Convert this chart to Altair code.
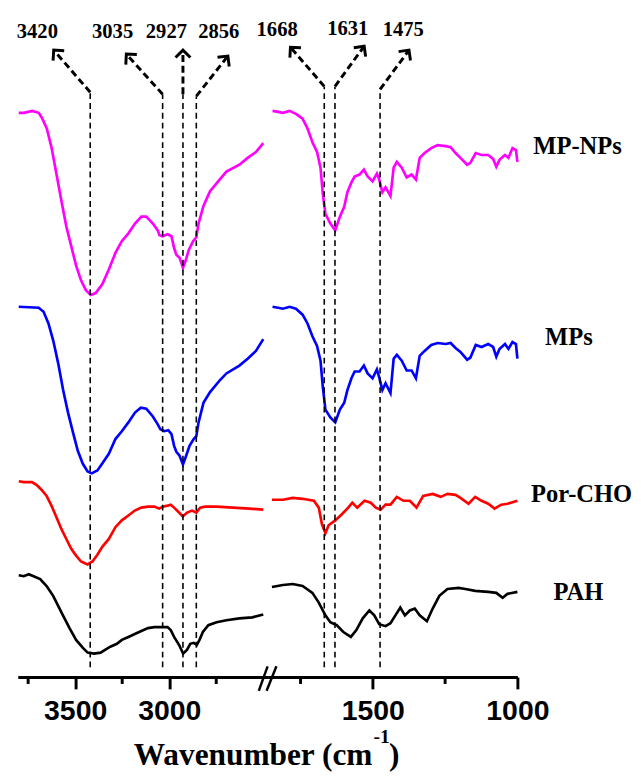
import altair as alt
import pandas as pd

# ---------------- spectra, left window (3805 - 2477 cm-1) ----------------
mpnps_l_wn = [3800, 3772, 3729, 3694, 3677, 3651, 3625, 3599, 3573, 3547, 3521, 3495, 3469, 3443, 3417,
              3391, 3356, 3321, 3286, 3252, 3217, 3182, 3148, 3122, 3087, 3061, 3052, 3035, 3009, 2988,
              2974, 2962, 2945, 2927, 2913, 2896, 2873, 2856, 2844, 2818, 2783, 2731, 2696, 2627, 2583,
              2539, 2500]
mpnps_l_val = [576, 576, 578, 576, 571, 560, 540, 513, 486, 460, 440, 420, 405, 395, 390,
               392, 401, 416, 433, 445, 453, 463, 470, 470, 463, 456, 451, 450, 452, 450,
               438, 431, 428, 418, 425, 436, 445, 449, 463, 481, 496, 508, 516, 523, 530,
               536, 545]

mps_l_wn = [3800, 3694, 3668, 3642, 3616, 3590, 3564, 3538, 3512, 3486, 3460, 3434, 3412, 3382, 3356,
            3321, 3286, 3252, 3217, 3182, 3151, 3122, 3087, 3061, 3047, 3026, 3005, 2988, 2974, 2962,
            2945, 2927, 2910, 2892, 2870, 2856, 2844, 2818, 2783, 2731, 2696, 2627, 2583, 2539, 2500]
mps_l_val = [378, 377, 373, 361, 343, 320, 293, 270, 250, 231, 218, 210, 208, 211, 218,
             228, 243, 251, 260, 270, 275, 274, 266, 258, 253, 251, 252, 248, 236, 230,
             226, 217, 226, 236, 243, 246, 260, 280, 291, 303, 310, 318, 325, 333, 345]

porcho_l_wn = [3800, 3773, 3730, 3704, 3678, 3652, 3626, 3599, 3573, 3547, 3521, 3495, 3469, 3434, 3408,
               3382, 3356, 3321, 3286, 3252, 3217, 3183, 3148, 3113, 3079, 3053, 3035, 3009, 2992, 2974,
               2948, 2928, 2905, 2879, 2856, 2835, 2809, 2748, 2662, 2575, 2500]
porcho_l_val = [200, 199, 199, 196, 191, 185, 175, 163, 151, 141, 131, 124, 118, 115, 118,
                125, 133, 141, 153, 160, 165, 170, 173, 174, 174, 172, 174, 175, 176, 173,
                168, 164, 168, 170, 168, 173, 174, 174, 173, 172, 171]

pah_l_wn = [3800, 3773, 3747, 3721, 3686, 3652, 3617, 3591, 3565, 3530, 3495, 3460, 3434, 3399, 3365,
            3339, 3313, 3278, 3252, 3217, 3183, 3148, 3113, 3079, 3044, 3009, 2992, 2974, 2948, 2926,
            2905, 2888, 2870, 2853, 2839, 2821, 2792, 2748, 2696, 2627, 2558, 2500]
pah_l_val = [104, 103, 105, 103, 100, 93, 83, 73, 63, 50, 38, 30, 25, 24, 25,
             28, 31, 34, 38, 41, 44, 47, 50, 51, 51, 51, 48, 41, 33, 24,
             28, 34, 35, 33, 38, 46, 53, 56, 58, 60, 61, 64]

# ---------------- spectra, right window (1864 - 1000 cm-1) ----------------
np_r_wn = [1847, 1828, 1811, 1788, 1766, 1743, 1726, 1709, 1693, 1681,
           1673, 1664, 1647, 1630, 1614, 1599, 1588, 1574, 1563, 1546,
           1531, 1518, 1501, 1486, 1478, 1467, 1456, 1439, 1428, 1417,
           1400, 1383, 1366, 1351, 1338, 1321, 1298, 1276, 1248, 1231,
           1214, 1197, 1174, 1163, 1144, 1124, 1101, 1084, 1073, 1062,
           1043, 1031, 1017, 1005, 1000]
mpnps_r_val = [578, 577, 576, 578, 575, 570, 560, 546, 536, 520,
               493, 473, 463, 456, 470, 480, 495, 505, 511, 513,
               518, 511, 506, 514, 508, 495, 500, 491, 520, 526,
               520, 510, 513, 508, 530, 535, 540, 543, 542, 541,
               535, 530, 523, 525, 535, 533, 533, 529, 521, 528,
               533, 530, 540, 538, 526]
mps_r_val = [378, 377, 376, 378, 376, 370, 361, 348, 338, 323,
             296, 273, 265, 260, 273, 280, 293, 305, 312, 312,
             318, 310, 305, 314, 306, 293, 300, 290, 325, 329,
             323, 313, 313, 305, 328, 333, 339, 341, 340, 341,
             336, 332, 324, 326, 339, 337, 340, 337, 327, 335,
             340, 335, 342, 340, 325]

porcho_r_wn = [1849, 1811, 1777, 1743, 1704, 1687, 1676, 1664, 1653, 1630, 1608, 1585, 1571, 1554, 1529,
               1507, 1490, 1473, 1456, 1439, 1417, 1394, 1372, 1349, 1326, 1293, 1265, 1242, 1214, 1197,
               1169, 1146, 1124, 1101, 1079, 1056, 1034, 1000]
porcho_r_val = [181, 181, 183, 182, 180, 173, 156, 147, 155, 160, 166, 173, 178, 173, 180,
                178, 173, 171, 176, 176, 184, 180, 180, 173, 185, 187, 184, 187, 186, 183,
                177, 184, 180, 177, 172, 176, 177, 180]

pah_r_wn = [1849, 1811, 1777, 1743, 1709, 1687, 1664, 1647, 1625, 1602, 1576, 1557, 1535, 1512, 1495,
            1478, 1456, 1439, 1422, 1405, 1389, 1372, 1355, 1338, 1313, 1293, 1270, 1242, 1203, 1180,
            1146, 1101, 1073, 1051, 1034, 1000]
pah_r_val = [92, 94, 95, 93, 86, 76, 63, 56, 53, 46, 41, 48, 60, 68, 63,
             54, 52, 55, 63, 71, 63, 68, 70, 63, 57, 70, 83, 90, 91, 90,
             88, 87, 86, 81, 85, 87]

SERIES = ["MP-NPs", "MPs", "Por-CHO", "PAH"]
COLORS = ["#FF00FF", "#0000FF", "#FF0000", "#000000"]

# ---------------- band annotations ----------------
band_l = ["3420", "3035", "2927", "2856"]
band_l_wn = [3420, 3035, 2927, 2856]
band_l_top = [597, 595, 595, 593]
band_l_tip_wn = [3614, 3228, 2927, 2688]
band_l_tip_val = [640, 636, 640, 634]
band_l_lab_wn = [3701, 3301, 3015, 2737]
band_l_lab_val = [658, 658, 658, 658]
band_l_angle = [318.6, 317.8, 0, 37.9]

band_r = ["1668", "1631", "1475"]
band_r_wn = [1668, 1631, 1475]
band_r_top = [603, 603, 600]
band_r_tip_wn = [1785, 1530, 1375]
band_r_tip_val = [643, 644, 640]
band_r_lab_wn = [1831, 1587, 1395]
band_r_lab_val = [660, 661, 660]
band_r_angle = [318, 37, 36.9]

series_lab = ["MP-NPs", "MPs", "Por-CHO", "PAH"]
series_lab_wn = [792, 822, 778, 789]
series_lab_val = [542, 347, 187, 87]

left_ticks = [3500, 3000]
left_minor = [3750, 3250, 2750]
right_ticks = [1500, 1000]
right_minor = [1750, 1250]

H = 675
W_L = 255
W_R = 255
LEFT_DOMAIN = [3805, 2477]
RIGHT_DOMAIN = [1864, 1000]


def spectra(parts):
    rows = []
    for name, wns, vals in parts:
        for w, v in zip(wns, vals):
            rows.append({"series": name, "wn": w, "val": v})
    return pd.DataFrame(rows)


left_df = spectra([("MP-NPs", mpnps_l_wn, mpnps_l_val), ("MPs", mps_l_wn, mps_l_val),
                   ("Por-CHO", porcho_l_wn, porcho_l_val), ("PAH", pah_l_wn, pah_l_val)])
right_df = spectra([("MP-NPs", np_r_wn, mpnps_r_val), ("MPs", np_r_wn, mps_r_val),
                    ("Por-CHO", porcho_r_wn, porcho_r_val), ("PAH", pah_r_wn, pah_r_val)])

ann_l = pd.DataFrame({"label": band_l, "wn": band_l_wn, "top": band_l_top, "bottom": [10] * 4,
                      "tip_wn": band_l_tip_wn, "tip_val": band_l_tip_val,
                      "lab_wn": band_l_lab_wn, "lab_val": band_l_lab_val, "angle": band_l_angle})
ann_r = pd.DataFrame({"label": band_r, "wn": band_r_wn, "top": band_r_top, "bottom": [10] * 3,
                      "tip_wn": band_r_tip_wn, "tip_val": band_r_tip_val,
                      "lab_wn": band_r_lab_wn, "lab_val": band_r_lab_val, "angle": band_r_angle})
lab_df = pd.DataFrame({"label": series_lab, "wn": series_lab_wn, "val": series_lab_val})

yscale = alt.Scale(domain=[0, H], nice=False, zero=False)
CHEVRON = "M-1,1L0,0L1,1"


def panel(df, ann, domain, ticks, minor):
    xs = alt.Scale(domain=domain, nice=False, zero=False)
    xa = alt.Axis(values=ticks, format="d", title=None, tickSize=12, labelPadding=8,
                  labelFlush=False, labelOverlap=False,
                  labelFont="Liberation Sans", labelFontSize=29, labelFontWeight="bold",
                  labelColor="black")
    lines = alt.Chart(df).mark_line(strokeWidth=2.7).encode(
        x=alt.X("wn:Q", scale=xs, axis=xa),
        y=alt.Y("val:Q", scale=yscale, axis=None),
        color=alt.Color("series:N", scale=alt.Scale(domain=SERIES, range=COLORS), legend=None),
    )
    vert = alt.Chart(ann).mark_rule(color="black", strokeWidth=1.6, strokeDash=[6, 4]).encode(
        x=alt.X("wn:Q", scale=xs, axis=xa), y=alt.Y("bottom:Q", scale=yscale, axis=None), y2="top:Q")
    diag = alt.Chart(ann).mark_rule(color="black", strokeWidth=3, strokeDash=[7, 4]).encode(
        x=alt.X("wn:Q", scale=xs, axis=xa), y=alt.Y("top:Q", scale=yscale, axis=None),
        x2="tip_wn:Q", y2="tip_val:Q")
    head = alt.Chart(ann).mark_point(shape=CHEVRON, filled=False, size=230, strokeWidth=3,
                                     color="black", opacity=1).encode(
        x=alt.X("tip_wn:Q", scale=xs, axis=xa), y=alt.Y("tip_val:Q", scale=yscale, axis=None),
        angle=alt.Angle("angle:Q", scale=None))
    labs = alt.Chart(ann).mark_text(font="Liberation Serif", fontWeight="bold", fontSize=21,
                                    color="black", baseline="middle").encode(
        x=alt.X("lab_wn:Q", scale=xs, axis=xa), y=alt.Y("lab_val:Q", scale=yscale, axis=None),
        text="label:N")
    mt = alt.Chart(pd.DataFrame({"wn": minor})).mark_rule(color="black", strokeWidth=3).encode(
        x=alt.X("wn:Q", scale=xs, axis=xa), y=alt.value(H), y2=alt.value(H + 7))
    return [lines, vert, diag, head, labs, mt], xs, xa


l_layers, lxs, lxa = panel(left_df, ann_l, LEFT_DOMAIN, left_ticks, left_minor)
r_layers, rxs, rxa = panel(right_df, ann_r, RIGHT_DOMAIN, right_ticks, right_minor)

one = pd.DataFrame({"a": [0]})
title_font = dict(font="Liberation Serif", fontWeight="bold", color="black", baseline="alphabetic")
t1 = alt.Chart(one).mark_text(text="Wavenumber (cm", fontSize=32, align="right", **title_font).encode(
    x=alt.value(362), y=alt.value(H + 90))
t2 = alt.Chart(one).mark_text(text="-1", fontSize=20, align="left", **title_font).encode(
    x=alt.value(363), y=alt.value(H + 67))
t3 = alt.Chart(one).mark_text(text=")", fontSize=32, align="left", **title_font).encode(
    x=alt.value(379), y=alt.value(H + 90))

series_text = alt.Chart(lab_df).mark_text(font="Liberation Serif", fontWeight="bold", fontSize=25,
                                          color="black", baseline="middle").encode(
    x=alt.X("wn:Q", scale=rxs, axis=rxa), y=alt.Y("val:Q", scale=yscale, axis=None), text="label:N")
brk1 = alt.Chart(one).mark_rule(color="black", strokeWidth=2.5).encode(
    x=alt.value(-9), x2=alt.value(0), y=alt.value(H + 14), y2=alt.value(H - 11))
brk2 = alt.Chart(one).mark_rule(color="black", strokeWidth=2.5).encode(
    x=alt.value(-1), x2=alt.value(9), y=alt.value(H + 14), y2=alt.value(H - 11))

left = alt.layer(*l_layers, t1, t2, t3).properties(width=W_L, height=H)
right = alt.layer(*r_layers, series_text, brk1, brk2).properties(width=W_R, height=H)

chart = alt.hconcat(left, right, spacing=0, bounds="flush").properties(
    padding={"left": 5, "top": 0, "right": 0, "bottom": 0}
).configure_view(strokeWidth=0).configure_axis(
    domainColor="black", domainWidth=3, tickColor="black", tickWidth=3, grid=False,
)

chart.save("out.html", embed_options={"renderer": "svg", "actions": False})
